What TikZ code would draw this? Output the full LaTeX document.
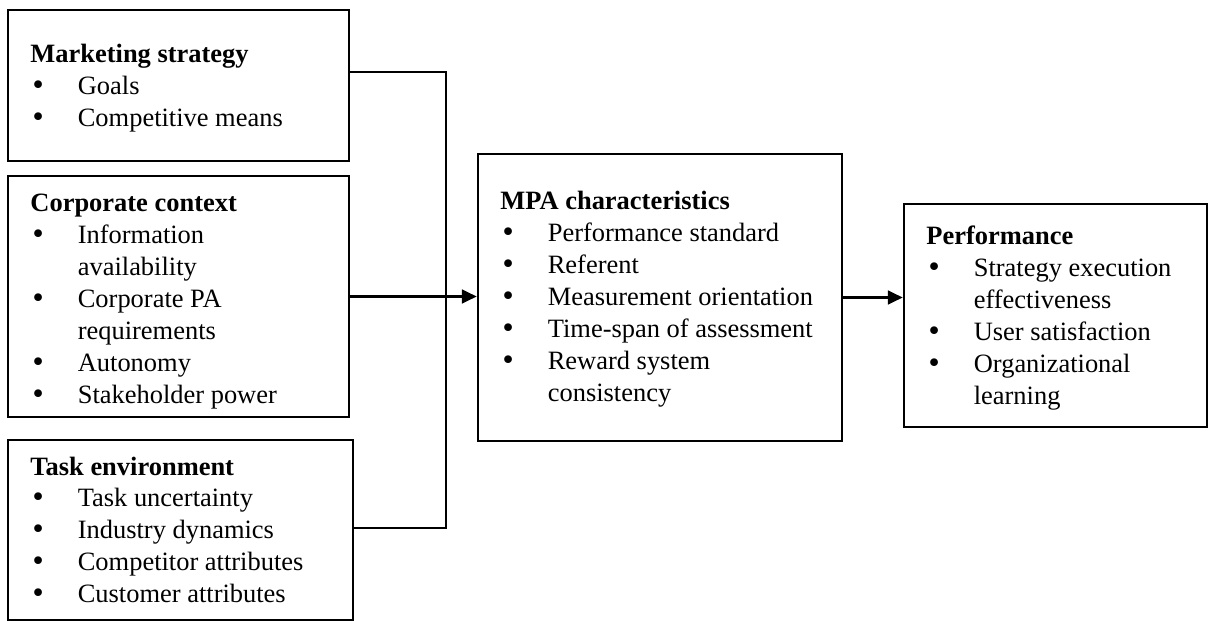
\documentclass[tikz,border=0pt]{standalone}
\usepackage{fontspec}
\setmainfont{Liberation Serif}
\newfontfamily\bulletfont{DejaVu Sans}
\usetikzlibrary{arrows.meta,fit}

% one bulleted line with a hanging indent, and a continuation line
\newcommand{\bdot}{{\bulletfont\char"2022}}
\newcommand{\bitem}[1]{\makebox[20.6pt][l]{\bdot}#1}
\newcommand{\bcont}[1]{\hspace*{20.6pt}#1}
\newcommand{\boxtext}[1]{\begin{tabular}[t]{@{}l@{}}#1\end{tabular}}

\begin{document}
\begin{tikzpicture}[x=0.4348pt,y=-0.4348pt,
    every node/.style={font=\fontsize{11.5}{13.9}\selectfont},
    panel/.style={draw=black,line width=1.1pt,rectangle,inner sep=0pt},
    label/.style={anchor=base west,inner sep=0pt},
    link/.style={draw=black,line width=1pt},
    arrowlink/.style={link,-{Triangle[length=6.5pt,width=6pt]}}]

\useasboundingbox (0,0) rectangle (1210,621);

% boxes
\node[panel,fit={(8,10) (349,161)}] (ms) {};
\node[panel,fit={(8,176) (349,417)}] (cc) {};
\node[panel,fit={(8,440) (353,620)}] (te) {};
\node[panel,fit={(478,154) (842,441)}] (mpa) {};
\node[panel,fit={(904,204) (1207,427)}] (perf) {};

% box contents
\node[label] (msT) at (30,63) {\boxtext{\textbf{Marketing strategy}\\
  \bitem{Goals}\\
  \bitem{Competitive means}}};
\node[label] (ccT) at (30,212) {\boxtext{\textbf{Corporate context}\\
  \bitem{Information}\\
  \bcont{availability}\\
  \bitem{Corporate PA}\\
  \bcont{requirements}\\
  \bitem{Autonomy}\\
  \bitem{Stakeholder power}}};
\node[label] (teT) at (30,475) {\boxtext{\textbf{Task environment}\\
  \bitem{Task uncertainty}\\
  \bitem{Industry dynamics}\\
  \bitem{Competitor attributes}\\
  \bitem{Customer attributes}}};
\node[label] (mpaT) at (500,210) {\boxtext{\textbf{MPA characteristics}\\
  \bitem{Performance standard}\\
  \bitem{Referent}\\
  \bitem{Measurement orientation}\\
  \bitem{Time-span of assessment}\\
  \bitem{Reward system}\\
  \bcont{consistency}}};
\node[label] (perfT) at (926,245) {\boxtext{\textbf{Performance}\\
  \bitem{Strategy execution}\\
  \bcont{effectiveness}\\
  \bitem{User satisfaction}\\
  \bitem{Organizational}\\
  \bcont{learning}}};

% collector line joining the outer input boxes
\coordinate (busTop) at (446,72);
\coordinate (busBot) at (446,528);
\draw[link] (ms.east |- busTop) -- (busTop) -- (busBot) -- (te.east |- busBot);

% arrows
\draw[arrowlink] (cc.east) -- (cc.east -| mpa.west);
\draw[arrowlink] (mpa.east) -- (mpa.east -| perf.west);

\end{tikzpicture}
\end{document}
